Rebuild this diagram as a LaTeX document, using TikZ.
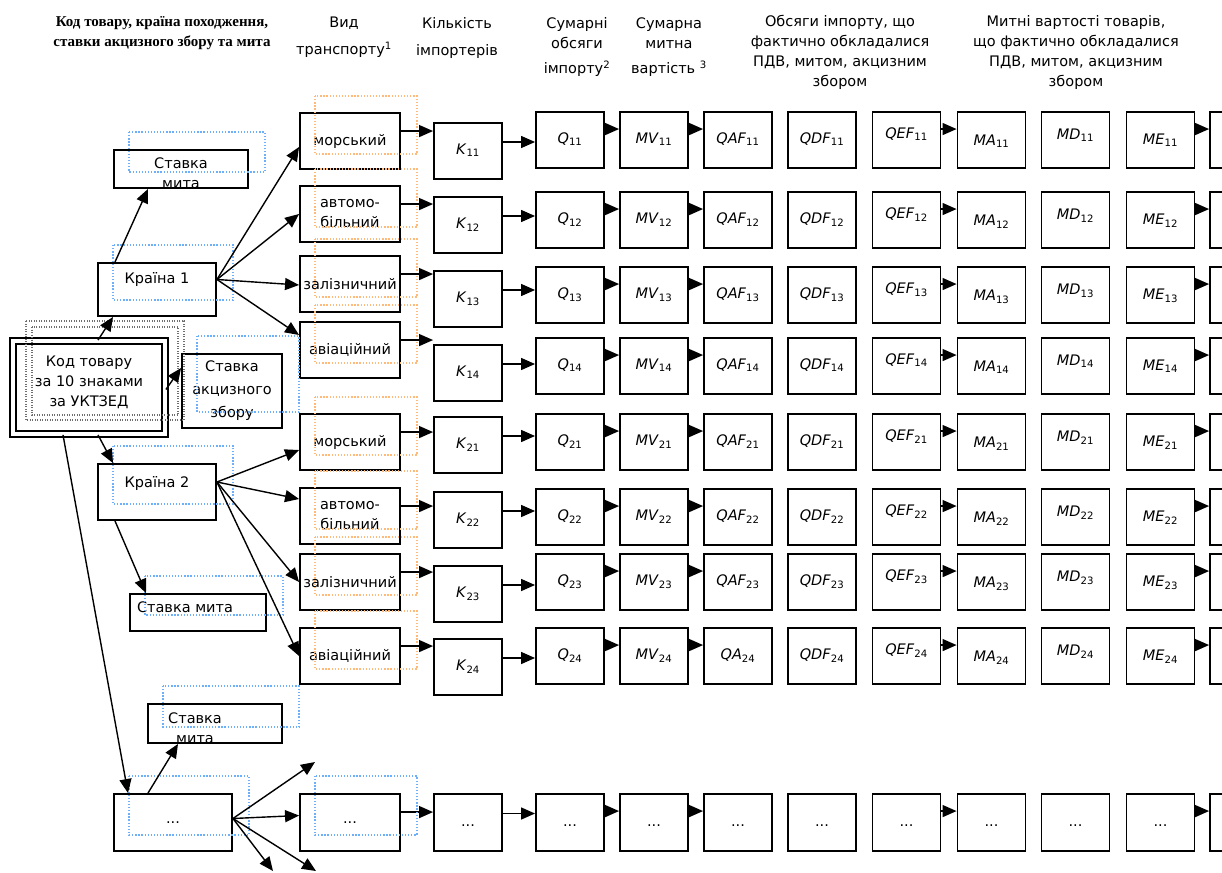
\documentclass[tikz,border=0pt]{standalone}
\usepackage{fontspec}
\setmainfont{DejaVu Sans}
\newfontfamily\hserif{Liberation Serif}
\usetikzlibrary{arrows.meta,calc}
\definecolor{dotblue}{RGB}{110,175,250}
\definecolor{dotorange}{RGB}{255,185,120}
\definecolor{dotgrey}{RGB}{110,110,110}
\newcommand{\clab}[2]{\textit{#1}\textsubscript{#2}}
\begin{document}
\begin{tikzpicture}[x=1pt,y=-1pt,
  every node/.style={font=\fontsize{14.5}{20}\selectfont},
  frame/.style={draw,line width=1.9pt,inner sep=0pt,minimum width=68pt,minimum height=56pt},
  bx/.style={frame,align=center},
  cbx/.style={frame,text height=10pt,text depth=3pt},
  dotb/.style={draw=dotblue,line width=1.3pt,dash pattern=on 1.3pt off 1.8pt},
  doto/.style={draw=dotorange,line width=1.3pt,dash pattern=on 1.3pt off 1.8pt},
  dotg/.style={draw=dotgrey,line width=1.1pt,dash pattern=on 1pt off 1.5pt},
  arr/.style={line width=1.4pt,-{Triangle[length=14pt,width=12pt]}}]
\useasboundingbox (0,0) rectangle (1222,872);
\clip (0,0) rectangle (1222,872);

% headers
\node[font=\hserif\bfseries\fontsize{15}{20}\selectfont,align=center] (h1) at (162,33) {Код товару, країна походження,\\ставки акцизного збору та мита};
\node[align=center] (h2) at (344,37) {Вид\\[7pt]транспорту\textsuperscript{1}};
\node[align=center] (h3) at (457,38.5) {Кількість\\[7pt]імпортерів};
\node[align=center] (h4) at (577,47.5) {Сумарні\\обсяги\\[5pt]імпорту\textsuperscript{2}};
\node[align=center] (h5) at (669,47.5) {Сумарна\\митна\\[5pt]вартість \textsuperscript{3}};
\node[align=center] (h6) at (840,52) {Обсяги імпорту, що\\фактично обкладалися\\ПДВ, митом, акцизним\\збором};
\node[align=center] (h7) at (1076,52.5) {Митні вартості товарів,\\що фактично обкладалися\\ПДВ, митом, акцизним\\збором};

% left side nodes
\node[bx,minimum width=134pt,minimum height=38pt,label={[align=center,yshift=-4.5pt]center:Ставка\\мита}] (CM1) at (181,169) {};
\node[bx,minimum width=118pt,minimum height=53pt,label={[yshift=9.5pt]center:Країна 1}] (C1) at (157,289.5) {};
\node[draw,double,double distance=4.5pt,line width=1.8pt,inner sep=0pt,minimum width=152pt,minimum height=93pt,label={[align=center,yshift=5.5pt]center:Код товару\\за 10 знаками\\за УКТЗЕД}] (Kod) at (89,387.5) {};
\node[bx,minimum width=100pt,minimum height=74pt,font=\fontsize{14.5}{23}\selectfont] (A) at (232,391) {Ставка\\акцизного\\збору};
\node[bx,minimum width=118pt,minimum height=56pt,label={[yshift=8pt]center:Країна 2}] (C2) at (157,492) {};
\node[bx,minimum width=136pt,minimum height=37pt,label={[xshift=-13pt,yshift=5.5pt]center:Ставка мита}] (CM2) at (198,612.5) {};
\node[bx,minimum width=134pt,minimum height=39pt,label={[align=center,xshift=-20pt,yshift=-5pt]center:Ставка\\мита}] (CM3) at (215,723.5) {};
\node[bx,minimum width=118pt,minimum height=57pt] (Cd) at (173,822.5) {...};

% rows
\foreach \r/\s/\ty/\ky/\qy/\tr/\qa in {
1/11/113/124/112/{морський}/QAF,
2/12/186/198/192/{автомо-\\більний}/QAF,
3/13/256/272/267/{залізничний}/QAF,
4/14/322/346/338/{авіаційний}/QAF,
5/21/414/418/414/{морський}/QAF,
6/22/488/493/489/{автомо-\\більний}/QAF,
7/23/554/567/554/{залізничний}/QAF,
8/24/628/640/628/{авіаційний}/QA}{
  \node[bx,minimum width=100pt] (T\r) at (350,\ty+28) {\tr};
  \draw[doto] ($(T\r.north west)+(16,-16)$) rectangle ($(T\r.south east)+(16,-16)$);
  \node[cbx] (K\r) at (468,\ky+27) {\clab{K}{\s}};
  \foreach \n/\cx/\L/\ry in {Q/570/Q/0,MV/654/MV/0,QAF/738/\qa/0,QDF/822/QDF/0,QEF/906.5/QEF/5,MA/991.5/MA/-2,MD/1075.5/MD/4,ME/1160.5/ME/-1}{
    \node[cbx] (\n\r) at (\cx,\qy+28) {\raisebox{\ry pt}{\clab{\L}{\s}}};
  }
  \node[cbx] (L\r) at (1244,\qy+28) {};
  \draw[arr] ([yshift=-19pt]T\r.north east) coordinate (a\r) -- (a\r -| K\r.west);
  \draw[arr] ([yshift=9pt]K\r.east) coordinate (b\r) -- (b\r -| Q\r.west);
  \draw[arr] ([yshift=-18pt]Q\r.north east) coordinate (c\r) -- (c\r -| MV\r.west);
  \draw[arr] ([yshift=-18pt]MV\r.north east) coordinate (d\r) -- (d\r -| QAF\r.west);
  \draw[arr] ([yshift=-18pt]QEF\r.north east) coordinate (e\r) -- (e\r -| MA\r.west);
  \draw[arr] ([yshift=-18pt]ME\r.north east) coordinate (g\r) -- (g\r -| L\r.west);
}

% last row
\node[bx,minimum width=100pt,minimum height=57pt] (T9) at (350,822.5) {...};
\foreach \n/\cx in {K/468,Q/570,MV/654,QAF/738,QDF/822,QEF/906.5,MA/991.5,MD/1075.5,ME/1160.5}{
  \node[cbx,minimum height=57pt] (\n9) at (\cx,822.5) {...};
}
\node[cbx,minimum height=57pt] (L9) at (1244,822.5) {};
\draw[arr] ([yshift=-19pt]T9.north east) coordinate (a9) -- (a9 -| K9.west);
\draw[arr] ([yshift=9pt]K9.east) coordinate (b9) -- (b9 -| Q9.west);
\draw[arr] ([yshift=-18pt]Q9.north east) coordinate (c9) -- (c9 -| MV9.west);
\draw[arr] ([yshift=-18pt]MV9.north east) coordinate (d9) -- (d9 -| QAF9.west);
\draw[arr] ([yshift=-18pt]QEF9.north east) coordinate (e9) -- (e9 -| MA9.west);
\draw[arr] ([yshift=-18pt]ME9.north east) coordinate (g9) -- (g9 -| L9.west);

% dotted overlays
\foreach \b in {CM1,C1,A,C2,CM2,CM3,Cd,T9}{
  \draw[dotb] ($(\b.north west)+(16,-17)$) rectangle ($(\b.south east)+(16,-17)$);
}
\draw[dotg] (26,321) rectangle (184,420);
\draw[dotg] (32,327) rectangle (178,415);

% left connectors
\draw[arr] ([xshift=9pt]Kod.north) -- ([xshift=-44pt]C1.south);
\draw[arr] ([xshift=-42pt]C1.north) -- ([xshift=-33pt]CM1.south);
\coordinate (o1) at ([yshift=10pt]C1.east);
\draw[arr] (o1) -- ([yshift=-6pt]T1.west);
\draw[arr] (o1) -- (T2.west);
\draw[arr] (o1) -- ([yshift=-1pt]T3.west);
\draw[arr] (o1) -- ([yshift=15pt]T4.west);
\draw[arr] ([yshift=-2pt]Kod.east) -- ([yshift=23pt]A.west);
\draw[arr] ([xshift=9pt]Kod.south) -- ([xshift=-44pt]C2.north);
\draw[arr] ([xshift=-26pt]Kod.south) -- ([xshift=-45pt]Cd.north);
\coordinate (o2) at ([yshift=10pt]C2.east);
\draw[arr] (o2) -- ([yshift=-8pt]T5.west);
\draw[arr] (o2) -- ([yshift=17pt]T6.west);
\draw[arr] (o2) -- (T7.west);
\draw[arr] (o2) -- (T8.west);
\draw[arr] ([xshift=-42pt]C2.south) -- ([xshift=-52pt]CM2.north);
\draw[arr] ([xshift=-25pt]Cd.north) -- ([xshift=-37pt]CM3.south);
\coordinate (od) at ([yshift=4pt]Cd.east);
\coordinate (f1) at (315,762);
\coordinate (f2) at (273,871);
\coordinate (f3) at (316,871);
\draw[arr] (od) -- (f1);
\draw[arr] (od) -- ([yshift=7pt]T9.west);
\draw[arr] (od) -- (f2);
\draw[arr] (od) -- (f3);
\end{tikzpicture}
\end{document}
